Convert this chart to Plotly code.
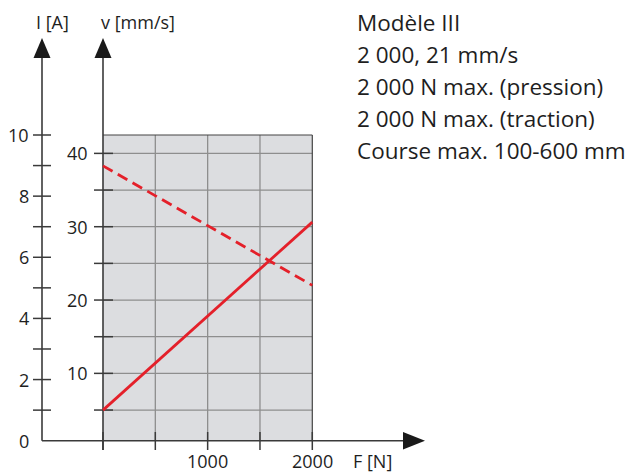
import plotly.graph_objects as go

# ---- data ----
force = [0, 2000]              # F [N]
current = [1.0, 7.15]          # I [A] (solid)
speed = [38.3, 22.0]           # v [mm/s] (dashed)
F_grid = [500, 1000, 1500]
F_ticks = [0, 500, 1000, 1500, 2000]
F_labels = [1000, 2000]
I_ticks = list(range(1, 11))
I_labels = [0, 2, 4, 6, 8, 10]
v_ticks = [5, 10, 15, 20, 25, 30, 35, 40]
v_labels = [10, 20, 30, 40]
info_lines = ["Modèle III", "2 000, 21 mm/s", "2 000 N max. (pression)",
              "2 000 N max. (traction)", "Course max. 100-600 mm"]

# ---- pixel calibration ----
W, H = 629, 474
FX0, FX1 = 103.0, 312.3      # px of F=0 and F=2000
VY0, VPX = 446.7, 7.333      # px of v=0, px per mm/s
IY0, IPX = 440.7, 30.57      # px of I=0, px per A


def fx(px):
    return (px - FX0) * 2000.0 / (FX1 - FX0)


def iy(py):
    return (IY0 - py) / IPX


FONT = "Open Sans"
TXT = "#1e1e1e"
AX = "#3a3a3a"
RED = "#e4202a"

fig = go.Figure()
fig.add_trace(go.Scatter(x=force, y=current, yaxis="y2", mode="lines",
                         line=dict(color=RED, width=2.8), hoverinfo="skip"))
fig.add_trace(go.Scatter(x=force, y=speed, yaxis="y", mode="lines",
                         line=dict(color=RED, width=2.8, dash="11px,6px"),
                         hoverinfo="skip"))

shapes = []
# gray area
shapes.append(dict(type="rect", xref="x", yref="y2", x0=0, x1=2000, y0=0, y1=10,
                   fillcolor="#dcdde0", line=dict(width=0), layer="below"))
# grid
for f in F_grid:
    shapes.append(dict(type="line", xref="x", yref="y2", x0=f, x1=f, y0=0, y1=10,
                       line=dict(color="#8e8e8e", width=1.3), layer="below"))
for v in v_ticks:
    shapes.append(dict(type="line", xref="x", yref="y", x0=0, x1=2000, y0=v, y1=v,
                       line=dict(color="#8e8e8e", width=1.3), layer="below"))
# border top / right
shapes.append(dict(type="line", xref="x", yref="y2", x0=0, x1=2000, y0=10, y1=10,
                   line=dict(color="#444", width=1.2), layer="below"))
shapes.append(dict(type="line", xref="x", yref="y2", x0=2000, x1=2000, y0=0, y1=10,
                   line=dict(color="#444", width=1.2), layer="below"))
# x ticks
for f in F_ticks:
    shapes.append(dict(type="line", xref="x", yref="y2", x0=f, x1=f,
                       y0=iy(432), y1=iy(450), line=dict(color=AX, width=1.5),
                       layer="below"))
# I axis ticks
for i in I_ticks:
    shapes.append(dict(type="line", xref="x", yref="y2", x0=fx(33), x1=fx(51),
                       y0=i, y1=i, line=dict(color=AX, width=1.5), layer="below"))
# v axis ticks
for v in v_ticks:
    shapes.append(dict(type="line", xref="x", yref="y", x0=fx(94), x1=fx(113),
                       y0=v, y1=v, line=dict(color=AX, width=1.5), layer="below"))
# axis lines
xI = fx(42)
shapes.append(dict(type="line", xref="x", yref="y2", x0=xI, x1=xI, y0=0, y1=iy(56),
                   line=dict(color=AX, width=1.6), layer="below"))
shapes.append(dict(type="line", xref="x", yref="y2", x0=0, x1=0, y0=iy(450), y1=iy(56),
                   line=dict(color=AX, width=1.6), layer="below"))
shapes.append(dict(type="line", xref="x", yref="y2", x0=xI, x1=fx(406), y0=0, y1=0,
                   line=dict(color=AX, width=1.6), layer="below"))


def tri(pts):
    return "M " + " L ".join(f"{a},{b}" for a, b in pts) + " Z"


# arrow heads
for cx in (42, 103):
    shapes.append(dict(type="path", xref="x", yref="y2",
                       path=tri([(fx(cx), iy(38)), (fx(cx - 8.5), iy(58)), (fx(cx + 8.5), iy(58))]),
                       fillcolor="#1a1a1a", line=dict(width=0), layer="below"))
shapes.append(dict(type="path", xref="x", yref="y2",
                   path=tri([(fx(425), iy(440.7)), (fx(403), iy(432)), (fx(403), iy(449.5))]),
                   fillcolor="#1a1a1a", line=dict(width=0), layer="below"))

ann = []
for i in I_labels:
    ann.append(dict(x=fx(31), y=i, xref="x", yref="y2", text=str(i), showarrow=False,
                    xanchor="right", yanchor="middle", font=dict(size=18, color=TXT, family=FONT)))
for v in v_labels:
    ann.append(dict(x=fx(90), y=v, xref="x", yref="y", text=str(v), showarrow=False,
                    xanchor="right", yanchor="middle", font=dict(size=18, color=TXT, family=FONT)))
for f in F_labels:
    ann.append(dict(x=f, y=iy(474), xref="x", yref="y2", text=str(f), showarrow=False,
                    xanchor="center", yanchor="bottom", borderpad=0,
                    font=dict(size=18, color=TXT, family=FONT)))
ann.append(dict(x=fx(372), y=iy(474), xref="x", yref="y2", text="F [N]", showarrow=False,
                xanchor="center", yanchor="bottom", borderpad=0,
                font=dict(size=18, color=TXT, family=FONT)))
ann.append(dict(x=fx(52), y=iy(22), xref="x", yref="y2", text="I [A]", showarrow=False,
                xanchor="center", yanchor="middle", font=dict(size=18, color=TXT, family=FONT)))
ann.append(dict(x=fx(138), y=iy(22), xref="x", yref="y2", text="v [mm/s]", showarrow=False,
                xanchor="center", yanchor="middle", font=dict(size=18, color=TXT, family=FONT)))
for k, line in enumerate(info_lines):
    ann.append(dict(x=fx(355), y=iy(22 + 32.2 * k), xref="x", yref="y2", text=line,
                    showarrow=False, xanchor="left", yanchor="middle",
                    font=dict(size=22.5, color=TXT, family=FONT)))

fig.update_layout(
    width=W, height=H, autosize=False,
    margin=dict(l=0, r=0, t=0, b=0),
    paper_bgcolor="white", plot_bgcolor="white",
    showlegend=False,
    xaxis=dict(range=[fx(0), fx(W)], visible=False, domain=[0, 1]),
    yaxis=dict(range=[(VY0 - H) / VPX, VY0 / VPX], visible=False, domain=[0, 1]),
    yaxis2=dict(range=[iy(H), iy(0)], visible=False, overlaying="y"),
    shapes=shapes, annotations=ann,
)
fig.write_html("out.html", config={"displayModeBar": False},
               post_script="document.body.style.margin='0';document.body.style.overflow='hidden';")
